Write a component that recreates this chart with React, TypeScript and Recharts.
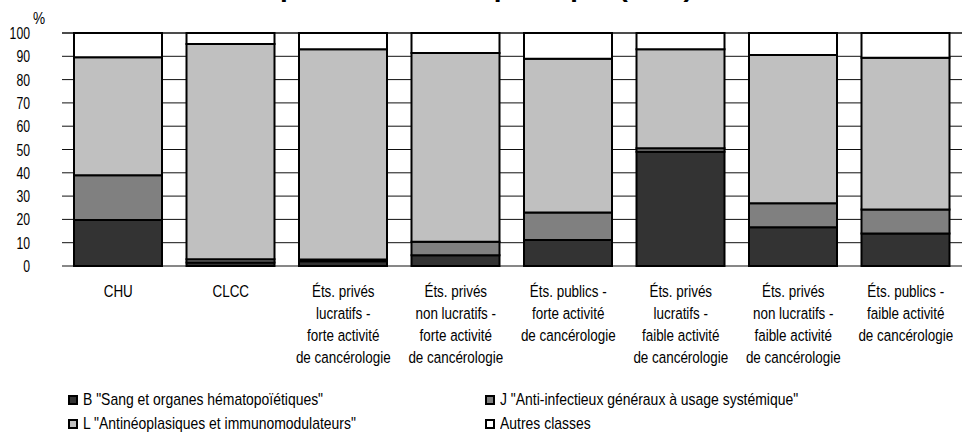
import { BarChart, Bar, XAxis, YAxis, CartesianGrid, Legend } from "recharts"

// établissement types, one label line per entry
const categoryLines: string[][] = [
  ["CHU"],
  ["CLCC"],
  ["Éts. privés", "lucratifs -", "forte activité", "de cancérologie"],
  ["Éts. privés", "non lucratifs -", "forte activité", "de cancérologie"],
  ["Éts. publics -", "forte activité", "de cancérologie"],
  ["Éts. privés", "lucratifs -", "faible activité", "de cancérologie"],
  ["Éts. privés", "non lucratifs -", "faible activité", "de cancérologie"],
  ["Éts. publics -", "faible activité", "de cancérologie"],
]
const categories = categoryLines.map((l) => l.join(" "))

// share of each ATC class (%)
const classeB = [19.7, 1.5, 2, 4.6, 11.2, 49, 16.6, 14]
const classeJ = [19.3, 1.4, 0.8, 5.8, 11.8, 1.5, 10.3, 10.3]
const classeL = [50.6, 92.4, 90.2, 81, 66, 42.5, 63.7, 65.1]
const autres = [10.4, 4.7, 7, 8.6, 11, 7, 9.4, 10.6]

const yTicks = [0, 10, 20, 30, 40, 50, 60, 70, 80, 90, 100]

const series = [
  { key: "B", name: 'B "Sang et organes hématopoïétiques"', fill: "#333333" },
  { key: "J", name: 'J "Anti-infectieux généraux à usage systémique"', fill: "#808080" },
  { key: "L", name: 'L "Antinéoplasiques et immunomodulateurs"', fill: "#c0c0c0" },
  { key: "A", name: "Autres classes", fill: "#ffffff" },
]

const data = categories.map((c, i) => ({
  name: c,
  B: classeB[i],
  J: classeJ[i],
  L: classeL[i],
  A: autres[i],
}))

const FONT = '"Liberation Sans", Arial, sans-serif'

function CategoryTick(props: any) {
  const { x, y, payload } = props
  const lines = categoryLines[payload.index] ?? [payload.value]
  return (
    <text
      transform={`translate(${x},${y}) scale(0.79,1)`}
      textAnchor="middle"
      fontSize={17}
      fontFamily={FONT}
      fill="#000"
    >
      {lines.map((line, i) => (
        <tspan key={i} x={0} y={29.5 + i * 22}>
          {line}
        </tspan>
      ))}
    </text>
  )
}

function ValueTick(props: any) {
  const { y, payload } = props
  return (
    <text
      transform={`translate(30,${y + 6}) scale(0.72,1)`}
      textAnchor="end"
      fontSize={17}
      fontFamily={FONT}
      fill="#000"
    >
      {payload.value}
    </text>
  )
}

function LegendGrid() {
  const cols = [68, 485]
  return (
    <div style={{ position: "relative", width: 962, height: 42 }}>
      {series.map((s, i) => (
        <div
          key={s.key}
          style={{
            position: "absolute",
            left: cols[i % 2],
            top: Math.floor(i / 2) * 24,
            display: "flex",
            alignItems: "center",
            height: 18,
            whiteSpace: "nowrap",
          }}
        >
          <span
            style={{
              width: 6,
              height: 6,
              background: s.fill,
              border: "2px solid #000",
              display: "inline-block",
              marginRight: 5,
            }}
          />
          <span
            style={{
              fontSize: 17,
              lineHeight: "18px",
              fontFamily: FONT,
              color: "#000",
              display: "inline-block",
              transform: "scaleX(0.82)",
              transformOrigin: "left center",
            }}
          >
            {s.name}
          </span>
        </div>
      ))}
    </div>
  )
}

export default function App() {
  return (
    <div
      style={{
        position: "absolute",
        left: 0,
        top: 0,
        width: 962,
        height: 432,
        overflow: "hidden",
        background: "#fff",
      }}
    >
      <BarChart
        width={962}
        height={432}
        data={data}
        margin={{ top: 33, right: 0, bottom: 0, left: 0 }}
        barSize={88}
      >
        <CartesianGrid vertical={false} stroke="#111" strokeWidth={1} />
        <XAxis
          dataKey="name"
          height={166}
          axisLine={false}
          tickLine={false}
          tickSize={0}
          interval={0}
          tick={<CategoryTick />}
        />
        <YAxis
          width={62}
          domain={[0, 100]}
          ticks={yTicks}
          axisLine={false}
          tickLine={false}
          tickSize={0}
          tick={<ValueTick />}
        />
        {series.map((s) => (
          <Bar
            key={s.key}
            dataKey={s.key}
            name={s.name}
            stackId="atc"
            fill={s.fill}
            stroke="#000"
            strokeWidth={2}
            isAnimationActive={false}
          />
        ))}
        <Legend
          layout="horizontal"
          verticalAlign="middle"
          align="center"
          wrapperStyle={{ left: 0, top: 391, width: 962 }}
          content={() => <LegendGrid />}
        />
      </BarChart>
      <svg
        width={962}
        height={432}
        style={{ position: "absolute", left: 0, top: 0, pointerEvents: "none" }}
      >
        <text
          transform="translate(68,-3.5) scale(1.08,1)"
          fontSize={26}
          fontWeight="bold"
          fontFamily={FONT}
          fill="#000"
        >
          Consommation par classe thérapeutique (ATC)
        </text>
        <text
          transform="translate(39,24) scale(0.8,1)"
          textAnchor="middle"
          fontSize={17}
          fontFamily={FONT}
          fill="#000"
        >
          %
        </text>
      </svg>
    </div>
  )
}
